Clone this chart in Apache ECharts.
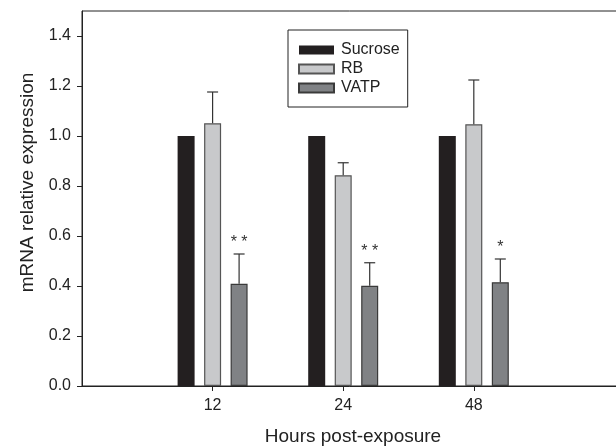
<!DOCTYPE html>
<html>
<head>
<meta charset="utf-8">
<script src="https://cdn.jsdelivr.net/npm/echarts@6/dist/echarts.min.js"></script>
<style>html,body{margin:0;padding:0;background:#fff}#c{width:616px;height:446px}</style>
</head>
<body>
<div id="c"></div>
<script>
// Data
var categories = ['12', '24', '48'];
var categoryPos = [1, 2, 3];
var sucrose = [1.0, 1.0, 1.0];
var rb = [1.051, 0.843, 1.047];
var rbErr = [0.125, 0.05, 0.177];
var vatp = [0.409, 0.401, 0.415];
var vatpErr = [0.119, 0.092, 0.093];
var vatpSig = ['* *', '* *', '*'];
var yTicks = [0, 0.2, 0.4, 0.6, 0.8, 1.0, 1.2, 1.4];

var FONT = '"Liberation Sans", Arial, sans-serif';
var BAR_W = 17, BAR_GAP = 9.5;

function pairs(vals) { return vals.map(function (v, i) { return [categoryPos[i], v]; }); }
function errData(vals, errs) { return vals.map(function (v, i) { return [categoryPos[i], v, errs[i]]; }); }

function errRender(offset, labels) {
  return function (params, api) {
    var base = api.coord([api.value(0), api.value(1)]);
    var top = api.coord([api.value(0), api.value(1) + api.value(2)]);
    var x = base[0] + offset;
    var style = { stroke: '#333', lineWidth: 1.2 };
    var children = [
      { type: 'line', shape: { x1: x, y1: base[1], x2: x, y2: top[1] }, style: style },
      { type: 'line', shape: { x1: x - 5.5, y1: top[1], x2: x + 5.5, y2: top[1] }, style: style }
    ];
    if (labels) {
      children.push({ type: 'text', style: { text: labels[params.dataIndex], x: x, y: top[1] - 11,
        align: 'center', verticalAlign: 'middle', fill: '#333', font: '16px ' + FONT } });
    }
    return { type: 'group', children: children };
  };
}

var chart = echarts.init(document.getElementById('c'), null, { renderer: 'canvas' });
chart.setOption({
  animation: false,
  textStyle: { fontFamily: FONT },
  grid: { left: 82, top: 11, bottom: 60, right: -8, outerBoundsMode: 'none', containLabel: false,
    show: true, borderColor: '#222', borderWidth: 1, backgroundColor: 'transparent' },
  legend: {
    orient: 'vertical', left: 288, top: 30,
    data: ['Sucrose', 'RB', 'VATP'],
    icon: 'rect', itemWidth: 35, itemHeight: 9, itemGap: 3,
    padding: [12, 8, 11, 10],
    borderColor: '#222', borderWidth: 1, backgroundColor: '#fff',
    textStyle: { fontSize: 16, color: '#222', fontFamily: FONT, padding: [0, 0, 0, 2] }
  },
  xAxis: {
    type: 'value', min: 0, max: 4.15,
    name: 'Hours post-exposure', nameLocation: 'middle', nameGap: 41,
    nameTextStyle: { fontSize: 19, color: '#222' },
    axisLine: { show: true, lineStyle: { color: '#222', width: 1 } },
    axisTick: { show: true, length: 5, customValues: categoryPos, lineStyle: { color: '#222' } },
    axisLabel: { customValues: categoryPos, fontSize: 16, color: '#222', margin: 12,
      formatter: function (v) { var i = categoryPos.indexOf(v); return i >= 0 ? categories[i] : ''; } },
    splitLine: { show: false }
  },
  yAxis: {
    type: 'value', min: 0, max: 1.5, interval: 0.2,
    name: 'mRNA relative expression', nameLocation: 'middle', nameGap: 45,
    nameTextStyle: { fontSize: 19, color: '#222', padding: [0, 0, 0, 32] },
    axisLine: { show: true, lineStyle: { color: '#222', width: 1 } },
    axisTick: { show: true, length: 5, customValues: yTicks, lineStyle: { color: '#222' } },
    axisLabel: { customValues: yTicks, fontSize: 16, color: '#222', margin: 11,
      formatter: function (v) { return v.toFixed(1); } },
    splitLine: { show: false }
  },
  series: [
    { name: 'Sucrose', type: 'bar', data: pairs(sucrose), barWidth: BAR_W, barGap: (BAR_GAP / BAR_W * 100) + '%',
      itemStyle: { color: '#231f20', borderColor: '#231f20', borderWidth: 0 } },
    { name: 'RB', type: 'bar', data: pairs(rb), barWidth: BAR_W, barGap: (BAR_GAP / BAR_W * 100) + '%',
      itemStyle: { color: '#c8c9cb', borderColor: '#555', borderWidth: 1.2 } },
    { name: 'VATP', type: 'bar', data: pairs(vatp), barWidth: BAR_W, barGap: (BAR_GAP / BAR_W * 100) + '%',
      itemStyle: { color: '#808285', borderColor: '#3a3a3a', borderWidth: 1.2 } },
    { type: 'custom', data: errData(rb, rbErr), renderItem: errRender(0, null), z: 3 },
    { type: 'custom', data: errData(vatp, vatpErr), renderItem: errRender(BAR_W + BAR_GAP, vatpSig), z: 3 }
  ]
});
</script>
</body>
</html>
